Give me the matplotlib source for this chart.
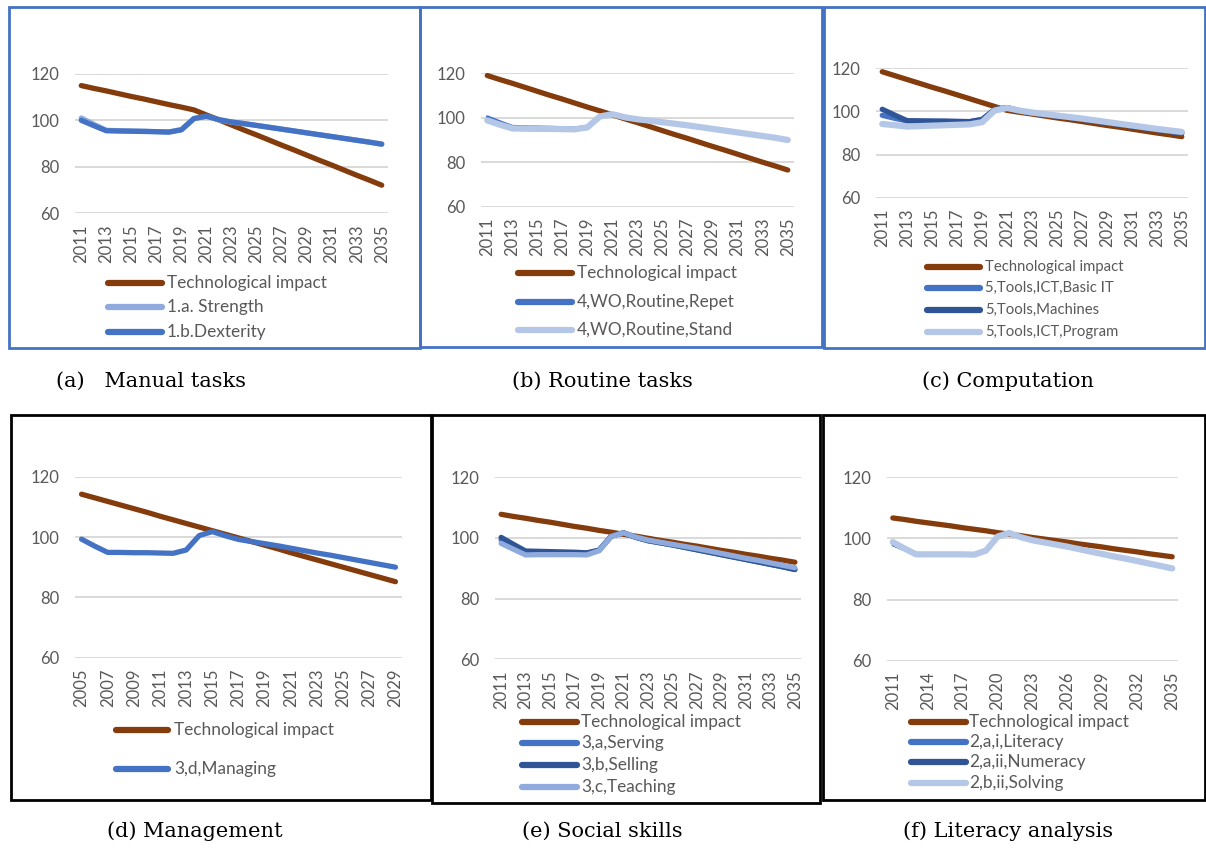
import matplotlib
matplotlib.use("Agg")
import matplotlib.pyplot as plt
from matplotlib.lines import Line2D
from matplotlib.patches import Rectangle

W, H = 1206, 849

# colours used by all six panels
BROWN = "#843C0C"
BLUE = "#4472C4"
DARK_BLUE = "#2F5597"
MID_BLUE = "#8FAADC"
LIGHT_BLUE = "#B4C7E7"
TEXT_GREY = "#595959"

years = list(range(2011, 2036))
years_mgmt = list(range(2005, 2030))

# (a) manual tasks
tech_a = [115.0, 113.8, 112.7, 111.5, 110.3, 109.2, 108.0, 106.8, 105.7, 104.5, 102.3, 100.2, 98.0,
          95.8, 93.7, 91.5, 89.3, 87.2, 85.0, 82.8, 80.7, 78.5, 76.3, 74.2, 72.0]
strength_a = [101.0, 98.3, 95.7, 95.5, 95.4, 95.3, 95.1, 95.0, 96.0, 100.7, 101.7, 100.2, 99.2,
              98.5, 97.8, 97.0, 96.2, 95.4, 94.6, 93.8, 93.0, 92.2, 91.4, 90.6, 89.8]
dexterity_a = [100.0, 97.7, 95.5, 95.4, 95.3, 95.2, 95.1, 94.9, 95.9, 100.8, 101.8, 100.3, 99.3,
               98.6, 97.8, 97.0, 96.2, 95.4, 94.6, 93.8, 93.0, 92.2, 91.4, 90.6, 89.7]

# (b) routine tasks
tech_b = [119.0, 117.2, 115.5, 113.7, 111.9, 110.1, 108.4, 106.6, 104.8, 103.1, 101.3, 99.5, 97.8,
          96.0, 94.2, 92.4, 90.7, 88.9, 87.1, 85.4, 83.6, 81.8, 80.0, 78.3, 76.5]
repet_b = [100.5, 98.3, 96.2, 96.0, 95.9, 95.8, 95.6, 95.5, 96.2, 100.7, 101.7, 100.3, 99.3,
           98.7, 98.0, 97.3, 96.6, 95.8, 95.0, 94.2, 93.4, 92.6, 91.8, 91.0, 90.0]
stand_b = [98.8, 96.9, 95.2, 95.1, 95.0, 95.0, 94.9, 94.8, 95.7, 100.6, 101.6, 100.2, 99.3,
           98.7, 98.0, 97.3, 96.6, 95.8, 95.0, 94.2, 93.4, 92.6, 91.8, 91.0, 90.0]

# (c) computation
tech_c = [118.4, 116.6, 114.8, 113.0, 111.2, 109.5, 107.7, 105.9, 104.1, 102.3, 100.5, 99.6, 98.8,
          97.9, 97.0, 96.2, 95.3, 94.4, 93.5, 92.7, 91.8, 90.9, 90.0, 89.2, 88.3]
basic_c = [98.2, 96.8, 95.6, 95.5, 95.5, 95.4, 95.3, 95.2, 96.2, 100.8, 101.8, 100.3, 99.3,
           98.6, 97.9, 97.2, 96.4, 95.6, 94.8, 94.0, 93.2, 92.4, 91.6, 90.8, 89.9]
machines_c = [101.0, 98.3, 95.7, 95.6, 95.5, 95.5, 95.4, 95.3, 96.3, 100.8, 101.8, 100.3, 99.3,
              98.6, 97.9, 97.2, 96.4, 95.6, 94.8, 94.0, 93.2, 92.4, 91.6, 90.8, 89.9]
program_c = [94.2, 93.6, 93.0, 93.2, 93.4, 93.6, 93.8, 94.0, 95.0, 100.4, 101.6, 100.4, 99.5,
             98.8, 98.1, 97.4, 96.7, 95.9, 95.1, 94.3, 93.5, 92.7, 91.9, 91.2, 90.5]

# (d) management
tech_d = [114.2, 113.0, 111.8, 110.6, 109.4, 108.2, 106.9, 105.7, 104.5, 103.3, 102.1, 100.9, 99.7,
          98.5, 97.3, 96.1, 94.8, 93.6, 92.4, 91.2, 90.0, 88.8, 87.6, 86.4, 85.2]
managing_d = [99.3, 97.0, 94.9, 94.9, 94.8, 94.8, 94.7, 94.6, 95.7, 100.5, 101.8, 100.4, 99.2,
              98.5, 97.8, 97.1, 96.3, 95.5, 94.7, 94.0, 93.2, 92.4, 91.6, 90.8, 90.0]

# (e) social skills
tech_e = [107.8, 107.1, 106.5, 105.8, 105.2, 104.5, 103.8, 103.2, 102.5, 101.9, 101.2, 100.6, 99.9,
          99.2, 98.6, 97.9, 97.3, 96.6, 95.9, 95.3, 94.6, 94.0, 93.3, 92.7, 92.0]
serving_e = [99.4, 97.4, 95.4, 95.3, 95.2, 95.1, 95.0, 94.9, 95.9, 100.6, 101.7, 100.2, 99.1,
             98.4, 97.7, 96.9, 96.1, 95.3, 94.5, 93.7, 92.9, 92.1, 91.3, 90.5, 89.6]
selling_e = [100.2, 97.9, 95.7, 95.6, 95.5, 95.4, 95.3, 95.1, 96.0, 100.6, 101.7, 100.2, 99.1,
             98.4, 97.7, 96.9, 96.1, 95.3, 94.5, 93.7, 92.9, 92.1, 91.3, 90.5, 89.6]
teaching_e = [98.2, 96.3, 94.4, 94.5, 94.5, 94.5, 94.5, 94.4, 95.8, 100.5, 101.7, 100.3, 99.3,
              98.6, 97.9, 97.2, 96.5, 95.7, 94.9, 94.1, 93.3, 92.6, 91.8, 91.0, 90.2]

# (f) literacy analysis
tech_f = [106.7, 106.2, 105.6, 105.1, 104.6, 104.1, 103.5, 103.0, 102.5, 101.9, 101.4, 100.9, 100.3,
          99.8, 99.3, 98.8, 98.2, 97.7, 97.2, 96.6, 96.1, 95.6, 95.0, 94.5, 94.0]
literacy_f = [97.8, 96.2, 94.6, 94.6, 94.6, 94.6, 94.6, 94.5, 95.9, 100.6, 101.8, 100.3, 99.3,
              98.6, 97.9, 97.2, 96.5, 95.7, 94.9, 94.1, 93.4, 92.6, 91.8, 91.0, 90.2]
numeracy_f = [97.9, 96.2, 94.6, 94.6, 94.6, 94.6, 94.6, 94.5, 95.9, 100.6, 101.8, 100.3, 99.3,
              98.6, 97.9, 97.2, 96.5, 95.7, 94.9, 94.1, 93.4, 92.6, 91.8, 91.0, 90.2]
solving_f = [98.8, 96.7, 94.8, 94.8, 94.8, 94.8, 94.8, 94.7, 96.0, 100.6, 101.8, 100.4, 99.4,
             98.7, 98.0, 97.3, 96.5, 95.7, 94.9, 94.1, 93.4, 92.6, 91.8, 91.0, 90.2]

y_ticks = [60, 80, 100, 120]

plt.rcParams["font.family"] = ["Lato", "DejaVu Sans"]
fig = plt.figure(figsize=(W / 100, H / 100), dpi=100)


def fx(x):
    return x / W


def fy(y):
    return 1 - y / H


def draw_panel(box, edge, plot, xs, step, series, leg_x, leg_rows, leg_size, caption):
    # frame around the chart
    bx0, by0, bx1, by1 = box
    fig.add_artist(Rectangle((fx(bx0), fy(by1)), (bx1 - bx0) / W, (by1 - by0) / H,
                             transform=fig.transFigure, fill=False, edgecolor=edge,
                             lw=2.0, zorder=0))

    px0, py120, px1, py60 = plot
    ax = fig.add_axes([fx(px0), fy(py60), (px1 - px0) / W, (py60 - py120) / H])
    idx = list(range(len(xs)))
    for label, vals, color, lw in series:
        ax.plot(idx, vals, color=color, lw=lw, solid_joinstyle="round",
                solid_capstyle="round", clip_on=False, zorder=3)

    ax.set_xlim(-0.5, len(xs) - 0.5)
    ax.set_ylim(60, 120)
    ax.set_yticks(y_ticks)
    ax.set_xticks(idx[::step])
    ax.set_xticklabels([str(v) for v in xs[::step]], rotation=90)
    ax.tick_params(length=0, labelsize=12, labelcolor=TEXT_GREY)
    ax.tick_params(axis="y", pad=11)
    ax.tick_params(axis="x", pad=8)
    ax.grid(axis="y", color="#D9D9D9", lw=1.4)
    ax.set_axisbelow(True)
    for s in ax.spines.values():
        s.set_visible(False)
    ax.patch.set_alpha(0)

    # legend drawn row by row under the axis
    hx0, hx1, tx = leg_x
    for (label, vals, color, lw), ry in zip(series, leg_rows):
        fig.add_artist(Line2D([fx(hx0), fx(hx1)], [fy(ry), fy(ry)], color=color, lw=4.5,
                              solid_capstyle="round", transform=fig.transFigure))
        fig.text(fx(tx), fy(ry), label, ha="left", va="center", fontsize=leg_size,
                 color=TEXT_GREY)

    cx, cy, ctext = caption
    fig.text(fx(cx), fy(cy), ctext, ha="center", va="center", fontsize=15,
             family="DejaVu Serif", color="black")
    return ax


draw_panel((9, 7, 420, 348), BLUE, (75, 74, 388, 213), years, 2,
           [("Technological impact", tech_a, BROWN, 3.8),
            ("1.a. Strength", strength_a, MID_BLUE, 3.8),
            ("1.b.Dexterity", dexterity_a, BLUE, 3.8)],
           (108, 162, 167), [283, 307, 332], 12.4,
           (151, 381, "(a)   Manual tasks"))

draw_panel((420, 7, 822, 347), BLUE, (481, 73.3, 794, 206.7), years, 2,
           [("Technological impact", tech_b, BROWN, 3.8),
            ("4,WO,Routine,Repet", repet_b, BLUE, 2.0),
            ("4,WO,Routine,Stand", stand_b, LIGHT_BLUE, 4.5)],
           (518, 572, 577), [273, 302, 330], 12.4,
           (602, 381, "(b) Routine tasks"))

draw_panel((824, 7, 1205, 348), BLUE, (876, 68.3, 1188, 197.7), years, 2,
           [("Technological impact", tech_c, BROWN, 3.8),
            ("5,Tools,ICT,Basic IT", basic_c, BLUE, 3.8),
            ("5,Tools,Machines", machines_c, DARK_BLUE, 3.8),
            ("5,Tools,ICT,Program", program_c, LIGHT_BLUE, 4.5)],
           (927, 980, 985), [267, 288, 310, 332], 10.7,
           (1008, 381, "(c) Computation"))

draw_panel((11, 415, 431, 800), "black", (75, 476.7, 402, 657.7), years_mgmt, 2,
           [("Technological impact", tech_d, BROWN, 3.8),
            ("3,d,Managing", managing_d, BLUE, 3.8)],
           (116, 168, 174), [730, 769], 12.4,
           (195, 831, "(d) Management"))

draw_panel((432, 415, 820, 803), "black", (495, 477.3, 801, 659.3), years, 2,
           [("Technological impact", tech_e, BROWN, 3.8),
            ("3,a,Serving", serving_e, BLUE, 3.8),
            ("3,b,Selling", selling_e, DARK_BLUE, 3.8),
            ("3,c,Teaching", teaching_e, MID_BLUE, 3.8)],
           (522, 577, 581), [722, 743, 765, 787], 12.4,
           (602, 831, "(e) Social skills"))

draw_panel((823, 415, 1205, 800), "black", (887, 477.3, 1178, 660.7), years, 3,
           [("Technological impact", tech_f, BROWN, 3.8),
            ("2,a,i,Literacy", literacy_f, BLUE, 1.8),
            ("2,a,ii,Numeracy", numeracy_f, DARK_BLUE, 1.5),
            ("2,b,ii,Solving", solving_f, LIGHT_BLUE, 4.5)],
           (911, 966, 969), [722, 742, 762, 783], 12.4,
           (1008, 831, "(f) Literacy analysis"))

fig.savefig("out.png", dpi=100, facecolor="white")
